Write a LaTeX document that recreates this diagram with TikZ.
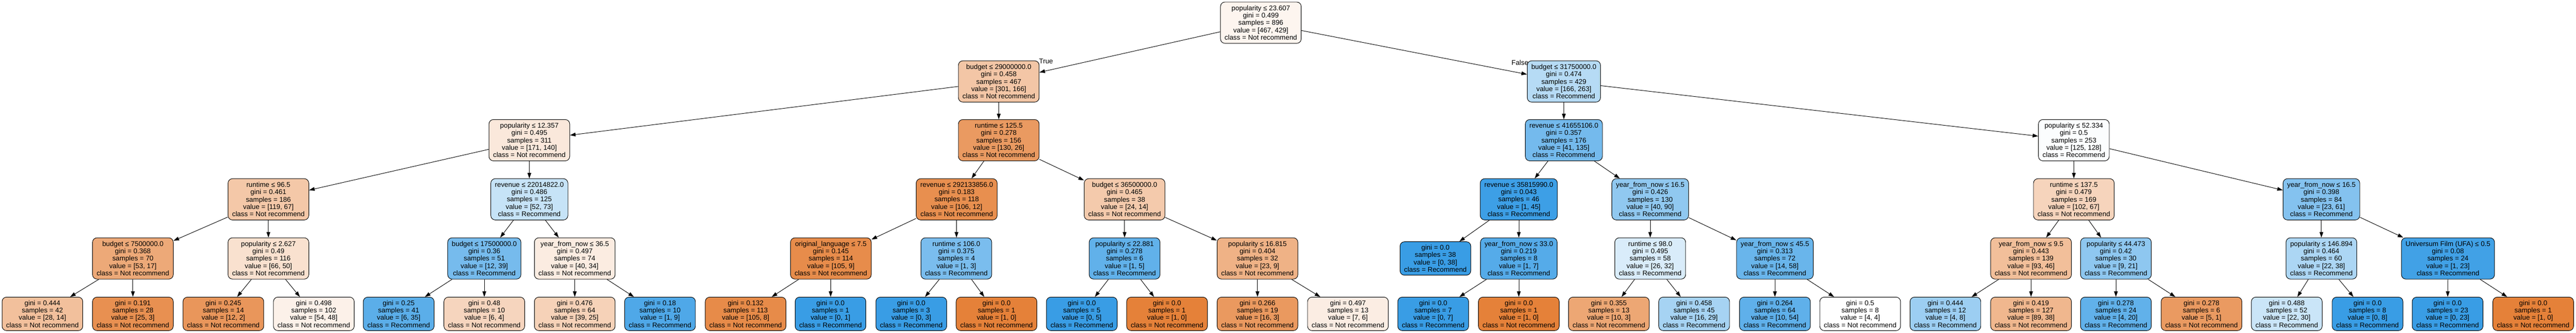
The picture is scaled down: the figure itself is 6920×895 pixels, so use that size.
\documentclass[tikz,border=0pt]{standalone}
\usepackage{fontspec}
\setmainfont{Liberation Sans}
\usetikzlibrary{arrows.meta}
\definecolor{cO}{RGB}{229,129,57}
\definecolor{cB}{RGB}{57,157,229}
\begin{document}
\begin{tikzpicture}[x=1pt,y=-1pt,
 tn/.style={draw=black, line width=1.3pt, rounded corners=12pt, align=center, inner xsep=11pt, inner ysep=0pt, minimum height=111pt, font=\fontsize{18.5pt}{19.75pt}\selectfont},
 lf/.style={tn, minimum height=90pt},
 conn/.style={draw=black, line width=1.3pt, -{Triangle[length=15pt,width=10pt]}},
 lbl/.style={font=\fontsize{18.5pt}{19.75pt}\selectfont, inner sep=0pt}]
\useasboundingbox (0,0) rectangle (6920,895);
\fill[white] (0,0) rectangle (6920,895);
% level 0
\node[tn, fill=cO!8] (n0) at (3387,61) {popularity ≤ 23.607\\gini = 0.499\\samples = 896\\value = [467, 429]\\class = Not recommend};
% level 1
\node[tn, fill=cO!45] (n1) at (2683,219) {budget ≤ 29000000.0\\gini = 0.458\\samples = 467\\value = [301, 166]\\class = Not recommend};
\node[tn, fill=cB!37] (n2) at (4201,219) {budget ≤ 31750000.0\\gini = 0.474\\samples = 429\\value = [166, 263]\\class = Recommend};
% level 2
\node[tn, fill=cO!18] (n3) at (1422,377) {popularity ≤ 12.357\\gini = 0.495\\samples = 311\\value = [171, 140]\\class = Not recommend};
\node[tn, fill=cO!80] (n4) at (2683,377) {runtime ≤ 125.5\\gini = 0.278\\samples = 156\\value = [130, 26]\\class = Not recommend};
\node[tn, fill=cB!70] (n5) at (4201,377) {revenue ≤ 41655106.0\\gini = 0.357\\samples = 176\\value = [41, 135]\\class = Recommend};
\node[tn, fill=cB!2] (n6) at (5571,377) {popularity ≤ 52.334\\gini = 0.5\\samples = 253\\value = [125, 128]\\class = Recommend};
% level 3
\node[tn, fill=cO!44] (n7) at (721,536) {runtime ≤ 96.5\\gini = 0.461\\samples = 186\\value = [119, 67]\\class = Not recommend};
\node[tn, fill=cB!29] (n8) at (1422,536) {revenue ≤ 22014822.0\\gini = 0.486\\samples = 125\\value = [52, 73]\\class = Recommend};
\node[tn, fill=cO!89] (n9) at (2570,536) {revenue ≤ 292133856.0\\gini = 0.183\\samples = 118\\value = [106, 12]\\class = Not recommend};
\node[tn, fill=cO!42] (n10) at (3021,536) {budget ≤ 36500000.0\\gini = 0.465\\samples = 38\\value = [24, 14]\\class = Not recommend};
\node[tn, fill=cB!98] (n11) at (4080,536) {revenue ≤ 35815990.0\\gini = 0.043\\samples = 46\\value = [1, 45]\\class = Recommend};
\node[tn, fill=cB!56] (n12) at (4433,536) {year\_from\_now ≤ 16.5\\gini = 0.426\\samples = 130\\value = [40, 90]\\class = Recommend};
\node[tn, fill=cO!34] (n13) at (5571,536) {runtime ≤ 137.5\\gini = 0.479\\samples = 169\\value = [102, 67]\\class = Not recommend};
\node[tn, fill=cB!62] (n14) at (6236,536) {year\_from\_now ≤ 16.5\\gini = 0.398\\samples = 84\\value = [23, 61]\\class = Recommend};
% level 4
\node[tn, fill=cO!68] (n15) at (357,695) {budget ≤ 7500000.0\\gini = 0.368\\samples = 70\\value = [53, 17]\\class = Not recommend};
\node[tn, fill=cO!24] (n16) at (721,695) {popularity ≤ 2.627\\gini = 0.49\\samples = 116\\value = [66, 50]\\class = Not recommend};
\node[tn, fill=cB!69] (n17) at (1301,695) {budget ≤ 17500000.0\\gini = 0.36\\samples = 51\\value = [12, 39]\\class = Recommend};
\node[tn, fill=cO!15] (n18) at (1544,695) {year\_from\_now ≤ 36.5\\gini = 0.497\\samples = 74\\value = [40, 34]\\class = Not recommend};
\node[tn, fill=cO!91] (n19) at (2232,695) {original\_language ≤ 7.5\\gini = 0.145\\samples = 114\\value = [105, 9]\\class = Not recommend};
\node[tn, fill=cB!67] (n20) at (2569,695) {runtime ≤ 106.0\\gini = 0.375\\samples = 4\\value = [1, 3]\\class = Recommend};
\node[tn, fill=cB!80] (n21) at (3021,695) {popularity ≤ 22.881\\gini = 0.278\\samples = 6\\value = [1, 5]\\class = Recommend};
\node[tn, fill=cO!61] (n22) at (3378,695) {popularity ≤ 16.815\\gini = 0.404\\samples = 32\\value = [23, 9]\\class = Not recommend};
\node[lf, fill=cB] (n23) at (3856,695) {gini = 0.0\\samples = 38\\value = [0, 38]\\class = Recommend};
\node[tn, fill=cB!86] (n24) at (4080,695) {year\_from\_now ≤ 33.0\\gini = 0.219\\samples = 8\\value = [1, 7]\\class = Recommend};
\node[tn, fill=cB!19] (n25) at (4433,695) {runtime ≤ 98.0\\gini = 0.495\\samples = 58\\value = [26, 32]\\class = Recommend};
\node[tn, fill=cB!76] (n26) at (4768,695) {year\_from\_now ≤ 45.5\\gini = 0.313\\samples = 72\\value = [14, 58]\\class = Recommend};
\node[tn, fill=cO!51] (n27) at (5456,695) {year\_from\_now ≤ 9.5\\gini = 0.443\\samples = 139\\value = [93, 46]\\class = Not recommend};
\node[tn, fill=cB!57] (n28) at (5684,695) {popularity ≤ 44.473\\gini = 0.42\\samples = 30\\value = [9, 21]\\class = Recommend};
\node[tn, fill=cB!42] (n29) at (6236,695) {popularity ≤ 146.894\\gini = 0.464\\samples = 60\\value = [22, 38]\\class = Recommend};
\node[tn, fill=cB!96] (n30) at (6576,695) {Universum Film (UFA) ≤ 0.5\\gini = 0.08\\samples = 24\\value = [1, 23]\\class = Recommend};
% level 5 leaves
\node[lf, fill=cO!50] (l1) at (114,844) {gini = 0.444\\samples = 42\\value = [28, 14]\\class = Not recommend};
\node[lf, fill=cO!88] (l2) at (357,844) {gini = 0.191\\samples = 28\\value = [25, 3]\\class = Not recommend};
\node[lf, fill=cO!83] (l3) at (600,844) {gini = 0.245\\samples = 14\\value = [12, 2]\\class = Not recommend};
\node[lf, fill=cO!11] (l4) at (843,844) {gini = 0.498\\samples = 102\\value = [54, 48]\\class = Not recommend};
\node[lf, fill=cB!83] (l5) at (1071,844) {gini = 0.25\\samples = 41\\value = [6, 35]\\class = Recommend};
\node[lf, fill=cO!33] (l6) at (1301,844) {gini = 0.48\\samples = 10\\value = [6, 4]\\class = Not recommend};
\node[lf, fill=cO!36] (l7) at (1544,844) {gini = 0.476\\samples = 64\\value = [39, 25]\\class = Not recommend};
\node[lf, fill=cB!89] (l8) at (1773,844) {gini = 0.18\\samples = 10\\value = [1, 9]\\class = Recommend};
\node[lf, fill=cO!92] (l9) at (2003,844) {gini = 0.132\\samples = 113\\value = [105, 8]\\class = Not recommend};
\node[lf, fill=cB] (l10) at (2231,844) {gini = 0.0\\samples = 1\\value = [0, 1]\\class = Recommend};
\node[lf, fill=cB] (l11) at (2448,844) {gini = 0.0\\samples = 3\\value = [0, 3]\\class = Recommend};
\node[lf, fill=cO] (l12) at (2677,844) {gini = 0.0\\samples = 1\\value = [1, 0]\\class = Not recommend};
\node[lf, fill=cB] (l13) at (2906,844) {gini = 0.0\\samples = 5\\value = [0, 5]\\class = Recommend};
\node[lf, fill=cO] (l14) at (3135,844) {gini = 0.0\\samples = 1\\value = [1, 0]\\class = Not recommend};
\node[lf, fill=cO!81] (l15) at (3378,844) {gini = 0.266\\samples = 19\\value = [16, 3]\\class = Not recommend};
\node[lf, fill=cO!14] (l16) at (3621,844) {gini = 0.497\\samples = 13\\value = [7, 6]\\class = Not recommend};
\node[lf, fill=cB] (l17) at (3850,844) {gini = 0.0\\samples = 7\\value = [0, 7]\\class = Recommend};
\node[lf, fill=cO] (l18) at (4080,844) {gini = 0.0\\samples = 1\\value = [1, 0]\\class = Not recommend};
\node[lf, fill=cO!70] (l19) at (4322,844) {gini = 0.355\\samples = 13\\value = [10, 3]\\class = Not recommend};
\node[lf, fill=cB!45] (l20) at (4551,844) {gini = 0.458\\samples = 45\\value = [16, 29]\\class = Recommend};
\node[lf, fill=cB!81] (l21) at (4768,844) {gini = 0.264\\samples = 64\\value = [10, 54]\\class = Recommend};
\node[lf, fill=white] (l22) at (4997,844) {gini = 0.5\\samples = 8\\value = [4, 4]\\class = Not recommend};
\node[lf, fill=cB!50] (l23) at (5226,844) {gini = 0.444\\samples = 12\\value = [4, 8]\\class = Recommend};
\node[lf, fill=cO!57] (l24) at (5456,844) {gini = 0.419\\samples = 127\\value = [89, 38]\\class = Not recommend};
\node[lf, fill=cB!80] (l25) at (5684,844) {gini = 0.278\\samples = 24\\value = [4, 20]\\class = Recommend};
\node[lf, fill=cO!80] (l26) at (5914,844) {gini = 0.278\\samples = 6\\value = [5, 1]\\class = Not recommend};
\node[lf, fill=cB!27] (l27) at (6143,844) {gini = 0.488\\samples = 52\\value = [22, 30]\\class = Recommend};
\node[lf, fill=cB] (l28) at (6360,844) {gini = 0.0\\samples = 8\\value = [0, 8]\\class = Recommend};
\node[lf, fill=cB] (l29) at (6575,844) {gini = 0.0\\samples = 23\\value = [0, 23]\\class = Recommend};
\node[lf, fill=cO] (l30) at (6805,844) {gini = 0.0\\samples = 1\\value = [1, 0]\\class = Not recommend};
% edge labels
\node[lbl] (tlab) at (2810,165) {True};
\node[lbl] (flab) at (4083,169) {False};
% connectors
\draw[conn] (n0) -- (n1);
\draw[conn] (n0) -- (n2);
\draw[conn] (n1) -- (n3);
\draw[conn] (n1) -- (n4);
\draw[conn] (n2) -- (n5);
\draw[conn] (n2) -- (n6);
\draw[conn] (n3) -- (n7);
\draw[conn] (n3) -- (n8);
\draw[conn] (n4) -- (n9);
\draw[conn] (n4) -- (n10);
\draw[conn] (n5) -- (n11);
\draw[conn] (n5) -- (n12);
\draw[conn] (n6) -- (n13);
\draw[conn] (n6) -- (n14);
\draw[conn] (n7) -- (n15);
\draw[conn] (n7) -- (n16);
\draw[conn] (n8) -- (n17);
\draw[conn] (n8) -- (n18);
\draw[conn] (n9) -- (n19);
\draw[conn] (n9) -- (n20);
\draw[conn] (n10) -- (n21);
\draw[conn] (n10) -- (n22);
\draw[conn] (n11) -- (n23);
\draw[conn] (n11) -- (n24);
\draw[conn] (n12) -- (n25);
\draw[conn] (n12) -- (n26);
\draw[conn] (n13) -- (n27);
\draw[conn] (n13) -- (n28);
\draw[conn] (n14) -- (n29);
\draw[conn] (n14) -- (n30);
\draw[conn] (n15) -- (l1);
\draw[conn] (n15) -- (l2);
\draw[conn] (n16) -- (l3);
\draw[conn] (n16) -- (l4);
\draw[conn] (n17) -- (l5);
\draw[conn] (n17) -- (l6);
\draw[conn] (n18) -- (l7);
\draw[conn] (n18) -- (l8);
\draw[conn] (n19) -- (l9);
\draw[conn] (n19) -- (l10);
\draw[conn] (n20) -- (l11);
\draw[conn] (n20) -- (l12);
\draw[conn] (n21) -- (l13);
\draw[conn] (n21) -- (l14);
\draw[conn] (n22) -- (l15);
\draw[conn] (n22) -- (l16);
\draw[conn] (n24) -- (l17);
\draw[conn] (n24) -- (l18);
\draw[conn] (n25) -- (l19);
\draw[conn] (n25) -- (l20);
\draw[conn] (n26) -- (l21);
\draw[conn] (n26) -- (l22);
\draw[conn] (n27) -- (l23);
\draw[conn] (n27) -- (l24);
\draw[conn] (n28) -- (l25);
\draw[conn] (n28) -- (l26);
\draw[conn] (n29) -- (l27);
\draw[conn] (n29) -- (l28);
\draw[conn] (n30) -- (l29);
\draw[conn] (n30) -- (l30);
\end{tikzpicture}
\end{document}
